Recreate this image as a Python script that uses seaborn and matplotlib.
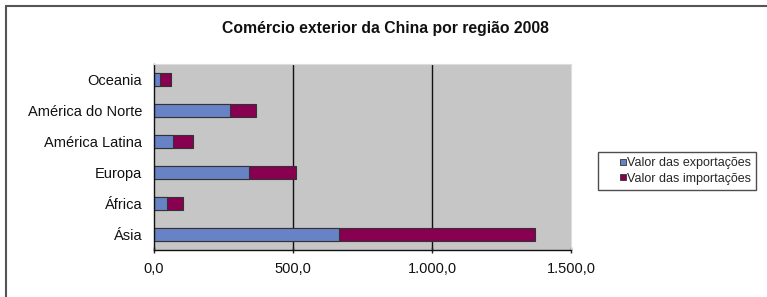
import pandas as pd
import seaborn as sns
import matplotlib.pyplot as plt
from matplotlib.lines import Line2D
from matplotlib.ticker import FuncFormatter, FixedLocator

regions = ["Oceania", "América do Norte", "América Latina", "Europa", "África", "Ásia"]
exportacoes = [22, 273, 69, 343, 48, 664]
importacoes = [40, 94, 72, 168, 58, 706]

cor_exp = "#6882C6"
cor_imp = "#880050"
fundo = "#C6C6C6"

df = pd.DataFrame({"regiao": regions, "exp": exportacoes, "imp": importacoes})
df["total"] = df["exp"] + df["imp"]

sns.set_style("white")
plt.rcParams["font.family"] = ["Liberation Sans", "DejaVu Sans"]

fig = plt.figure(figsize=(7.67, 2.97), dpi=100)
ax = fig.add_axes([154 / 767, 47 / 297, 417 / 767, 186 / 297])
ax.set_facecolor(fundo)

# stacked bars: total (imports) first, exports drawn over it
sns.barplot(data=df, x="total", y="regiao", color=cor_imp, width=0.42,
            edgecolor="#333333", linewidth=0.8, saturation=1, ax=ax, order=regions)
sns.barplot(data=df, x="exp", y="regiao", color=cor_exp, width=0.42,
            edgecolor="#333333", linewidth=0.8, saturation=1, ax=ax, order=regions)

ax.set_xlim(0, 1500)
ax.set_ylim(5.5, -0.5)
ax.set_xticks([0, 500, 1000, 1500])
ax.xaxis.set_major_formatter(FuncFormatter(
    lambda v, p: f"{v:,.1f}".replace(",", "X").replace(".", ",").replace("X", ".")))
ax.set_xlabel("")
ax.set_ylabel("")

for v in [500, 1000]:
    ax.axvline(v, color="#111111", linewidth=1, zorder=0.5)

ax.yaxis.set_minor_locator(FixedLocator([i - 0.5 for i in range(7)]))
ax.tick_params(axis="y", which="major", length=0, pad=8.5, labelsize=10.5, colors="#111111")
ax.tick_params(axis="y", which="minor", length=5, width=1, color="#222222", direction="out")
ax.tick_params(axis="x", which="major", length=5, width=1, color="#222222", direction="inout",
               pad=6, labelsize=10.5, labelcolor="#111111")
ax.xaxis.set_ticks_position("bottom")

for s in ["left", "bottom"]:
    ax.spines[s].set_color("#111111")
    ax.spines[s].set_linewidth(1)
for s in ["top", "right"]:
    ax.spines[s].set_color("#dddddd")
    ax.spines[s].set_linewidth(0.8)

fig.text(385 / 767, 1 - 28 / 297, "Comércio exterior da China por região 2008",
         ha="center", va="center", fontsize=11.3, fontweight="bold", color="#111111")

# chart area border (left and top edges)
fig.add_artist(Line2D([6 / 767, 6 / 767], [0, 1 - 6 / 297], transform=fig.transFigure,
                      color="#555555", linewidth=1.5))
fig.add_artist(Line2D([6 / 767, 1], [1 - 6 / 297, 1 - 6 / 297], transform=fig.transFigure,
                      color="#555555", linewidth=1.5))

handles = [
    Line2D([], [], marker="s", linestyle="", markersize=5, markerfacecolor=cor_exp,
           markeredgecolor="#333333", markeredgewidth=0.6, label="Valor das exportações"),
    Line2D([], [], marker="s", linestyle="", markersize=5, markerfacecolor=cor_imp,
           markeredgecolor="#333333", markeredgewidth=0.6, label="Valor das importações"),
]
leg = fig.legend(handles=handles, loc="upper left", bbox_to_anchor=(598 / 767, 1 - 152 / 297),
                 fontsize=9, frameon=True, fancybox=False, handlelength=3.2, handletextpad=-1.25,
                 borderpad=0.4, labelspacing=0.3, borderaxespad=0)
leg.get_frame().set_edgecolor("#222222")
leg.get_frame().set_linewidth(1)

fig.savefig("out.png", dpi=100)
